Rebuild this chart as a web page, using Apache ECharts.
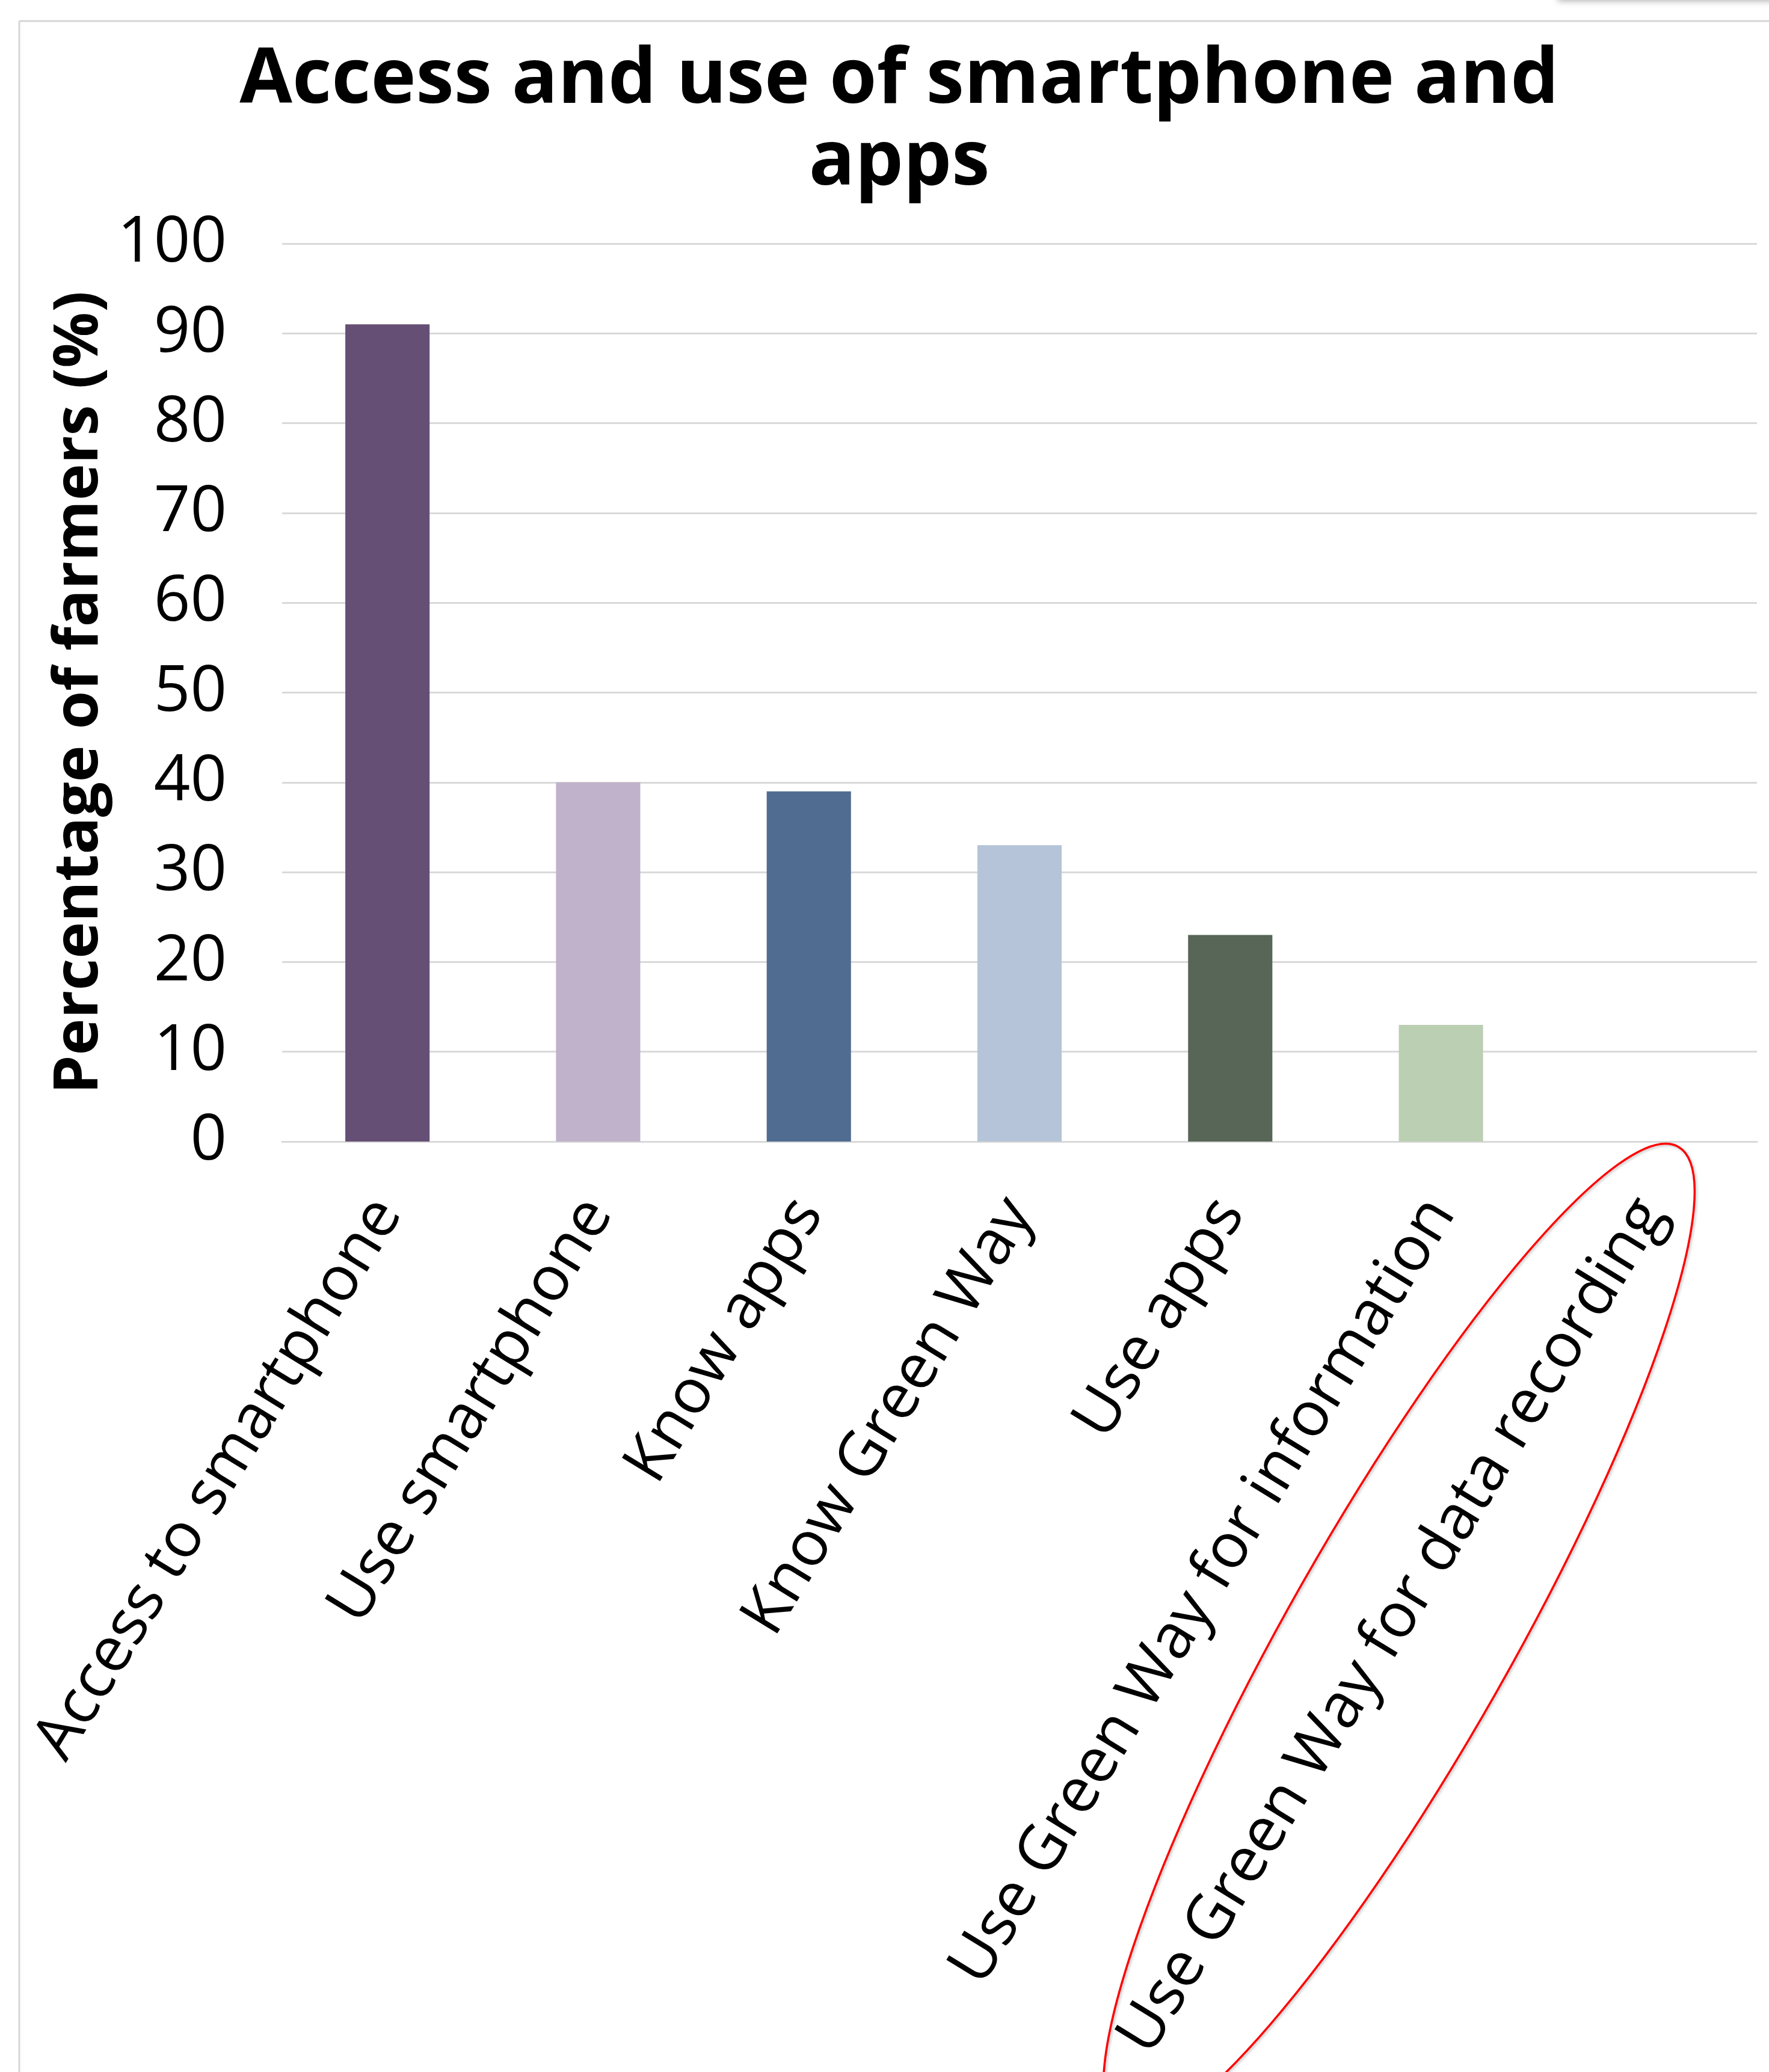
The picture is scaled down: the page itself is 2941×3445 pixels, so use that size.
<!DOCTYPE html>
<html>
<head>
<meta charset="utf-8">
<script src="https://cdn.jsdelivr.net/npm/echarts@6/dist/echarts.min.js"></script>
<style>
html,body{margin:0;padding:0;background:#fff;}
#main{width:2941px;height:3445px;}
</style>
</head>
<body>
<div id="main"></div>
<script>
const categories = [
  'Access to smartphone',
  'Use smartphone',
  'Know apps',
  'Know Green Way',
  'Use apps',
  'Use Green Way for information',
  'Use Green Way for data recording'
];
const values = [91, 40, 39, 33, 23, 13, 0];
const barColors = ['#654F75', '#C0B2CB', '#506C91', '#B5C4D8', '#576657', '#BBCFB3', '#8E9FB5'];
const yTicks = [0, 10, 20, 30, 40, 50, 60, 70, 80, 90, 100];
const titleText = 'Access and use of smartphone and\napps';
const yAxisName = 'Percentage of farmers (%)';

const FONT = '"Open Sans", "DejaVu Sans", sans-serif';
const chart = echarts.init(document.getElementById('main'), null, {renderer: 'canvas', width: 2941, height: 3445});

const option = {
  backgroundColor: '#ffffff',
  animation: false,
  title: {
    text: titleText,
    left: 1490,
    top: 62,
    textAlign: 'center',
    textStyle: {
      fontFamily: FONT,
      fontWeight: 'bold',
      fontSize: 127,
      lineHeight: 136,
      color: '#000000'
    }
  },
  grid: {
    left: 469,
    right: 20,
    top: 405,
    bottom: 1547,
    containLabel: false
  },
  xAxis: {
    type: 'category',
    data: categories,
    axisLine: {show: true, lineStyle: {color: '#D9D9D9', width: 3}},
    axisTick: {show: false},
    axisLabel: {
      interval: 0,
      rotate: 58.5,
      margin: 104,
      fontFamily: FONT,
      fontSize: 104,
      color: '#000000'
    },
    splitLine: {show: false}
  },
  yAxis: {
    type: 'value',
    min: yTicks[0],
    max: yTicks[yTicks.length - 1],
    interval: 10,
    name: yAxisName,
    nameLocation: 'middle',
    nameRotate: 90,
    nameGap: 285,
    nameTextStyle: {
      fontFamily: FONT,
      fontWeight: 'bold',
      fontSize: 103,
      color: '#000000'
    },
    axisLine: {show: false},
    axisTick: {show: false},
    axisLabel: {
      margin: 92,
      fontFamily: FONT,
      fontSize: 106,
      color: '#000000'
    },
    splitLine: {show: true, lineStyle: {color: '#D9D9D9', width: 3}}
  },
  series: [{
    type: 'bar',
    barWidth: '40%',
    data: values.map((v, i) => ({value: v, itemStyle: {color: barColors[i]}}))
  }]
};
chart.setOption(option);

// annotation ellipse around the last category label, anchored to the axis
const lastCat = categories[categories.length - 1];
const ax = chart.convertToPixel({xAxisIndex: 0}, lastCat);
const ay = chart.convertToPixel({yAxisIndex: 0}, 0);
chart.setOption({
  graphic: [
    {
      type: 'rect', silent: true, z: 0,
      shape: {x: 2590, y: -30, width: 420, height: 30},
      style: {fill: '#ffffff', shadowColor: 'rgba(0,0,0,0.35)', shadowBlur: 12, shadowOffsetY: 1}
    },
    {
      type: 'line', silent: true, z: 0,
      shape: {x1: 32, y1: 35, x2: 32, y2: 3445},
      style: {stroke: '#D6D6D6', lineWidth: 3}
    },
    {
      type: 'line', silent: true, z: 0,
      shape: {x1: 32, y1: 35, x2: 2941, y2: 35},
      style: {stroke: '#D6D6D6', lineWidth: 3}
    },
    {
      type: 'ellipse', silent: true, z: 100,
      x: ax - 420, y: ay + 826,
      rotation: 60.4 * Math.PI / 180,
      shape: {cx: 0, cy: 0, rx: 940, ry: 185},
      style: {fill: 'none', stroke: '#FF0000', lineWidth: 3.5, shadowColor: 'rgba(0,0,0,0.25)', shadowBlur: 4, shadowOffsetX: 2, shadowOffsetY: 2}
    }
  ]
});
</script>
</body>
</html>
